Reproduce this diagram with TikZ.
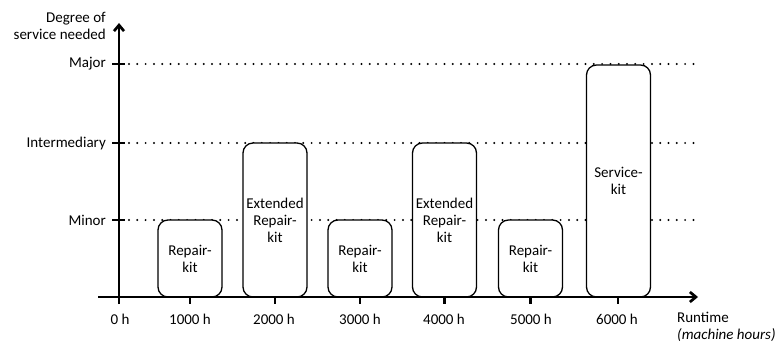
\documentclass[tikz,border=0pt]{standalone}
\usepackage{fontspec}
\setmainfont{Carlito}
\usetikzlibrary{arrows.meta}
\begin{document}
\begin{tikzpicture}[x=1pt,y=-1pt,
  axis/.style={line width=2.7pt},
  tickmark/.style={line width=2.7pt},
  guide/.style={line width=2.2pt, dash pattern=on 0pt off 8.3pt, line cap=round},
  kit/.style={draw, line width=1.3pt, fill=white, rounded corners=10pt,
    minimum width=64pt, align=center, inner sep=0pt,
    font=\fontsize{15}{17}\selectfont},
  lbl/.style={inner sep=0pt, font=\fontsize{15}{17}\selectfont},
  barb/.tip={Straight Barb[length=6pt,width=10pt]}
]
\useasboundingbox (0,0) rectangle (776,345);

% coordinates
\coordinate (ybot) at (119,304);
\coordinate (ytop) at (119,23);
\coordinate (xleft) at (98,297);
\coordinate (xright) at (698,297);

% guide lines
\foreach \yy/\nm in {64/major,143/inter,220/minor}{
  \coordinate (g\nm a) at (129,\yy);
  \coordinate (g\nm b) at (698,\yy);
  \draw[guide] (g\nm a) -- (g\nm b);
  \coordinate (t\nm a) at (112,\yy);
  \coordinate (t\nm b) at (125,\yy);
  \draw[tickmark] (t\nm a) -- (t\nm b);
}

% x ticks
\foreach \xx/\nm in {190/a,275/b,360/c,444.5/d,530.5/e,618/f}{
  \coordinate (xt\nm a) at (\xx,297);
  \coordinate (xt\nm b) at (\xx,304);
  \draw[tickmark] (xt\nm a) -- (xt\nm b);
}

% boxes
\node[kit, minimum height=77pt]  (k1) at (190,258.5) {Repair-\\kit};
\node[kit, minimum height=154pt] (k2) at (275,220) {Extended\\Repair-\\kit};
\node[kit, minimum height=77pt]  (k3) at (360,258.5) {Repair-\\kit};
\node[kit, minimum height=154pt] (k4) at (444.5,220) {Extended\\Repair-\\kit};
\node[kit, minimum height=77pt]  (k5) at (530.5,258.5) {Repair-\\kit};
\node[kit, minimum height=232pt] (k6) at (618.5,181) {Service-\\kit};

% axes
\draw[axis, -barb] (ybot) -- (ytop);
\draw[axis, -barb] (xleft) -- (xright);

% y labels
\node[lbl, anchor=east, align=right] (ytitle) at (106,25.5) {Degree of\\service needed};
\node[lbl, anchor=east] (lmajor) at (106,64) {Major};
\node[lbl, anchor=east] (linter) at (106,143) {Intermediary};
\node[lbl, anchor=east] (lminor) at (106,220) {Minor};

% x labels
\node[lbl] (h0) at (120,319) {0 h};
\node[lbl] (h1) at (190,319) {1000 h};
\node[lbl] (h2) at (274,319) {2000 h};
\node[lbl] (h3) at (360,319) {3000 h};
\node[lbl] (h4) at (444,319) {4000 h};
\node[lbl] (h5) at (531,319) {5000 h};
\node[lbl] (h6) at (617,319) {6000 h};
\node[lbl, anchor=west, align=left] (xtitle) at (677,327) {Runtime\\\textit{(machine hours)}};
\end{tikzpicture}
\end{document}
